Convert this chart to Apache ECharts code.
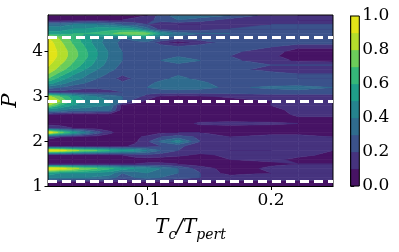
<!DOCTYPE html>
<html><head><meta charset="utf-8">
<script src="https://cdn.jsdelivr.net/npm/echarts@6/dist/echarts.min.js"></script>
<style>html,body{margin:0;padding:0;background:#fff}#c{width:399px;height:252px}</style>
</head><body><div id="c"></div>
<script>
// x: Tc/Tpert grid, P grid, value grid (rows follow ps)
const xs = [0.02,0.03,0.04,0.05,0.06,0.07,0.08,0.09,0.1,0.111,0.125,0.143,0.167,0.2,0.222,0.25];
const ps = [1.0,1.1,1.2,1.3,1.4,1.5,1.6,1.7,1.8,1.9,2.0,2.1,2.2,2.3,2.4,2.5,2.6,2.7,2.8,2.9,3.0,3.1,3.2,3.3,3.4,3.5,3.6,3.7,3.8,3.9,4.0,4.1,4.2,4.3,4.4,4.5,4.6,4.7,4.8];
const z = [
 [0.05,0.05,0.05,0.05,0.05,0.05,0.05,0.05,0.05,0.05,0.05,0.05,0.05,0.05,0.05,0.05],
 [0.08,0.08,0.08,0.08,0.08,0.08,0.08,0.08,0.08,0.08,0.08,0.08,0.08,0.08,0.08,0.08],
 [0.45,0.42,0.4,0.4,0.38,0.35,0.25,0.3,0.35,0.3,0.25,0.2,0.15,0.15,0.15,0.12],
 [0.55,0.5,0.5,0.5,0.48,0.45,0.3,0.35,0.4,0.35,0.3,0.2,0.05,0.1,0.15,0.12],
 [1.0,0.95,0.85,0.75,0.7,0.62,0.55,0.5,0.45,0.4,0.3,0.15,0.05,0.12,0.15,0.12],
 [0.1,0.1,0.1,0.1,0.1,0.1,0.1,0.1,0.12,0.12,0.1,0.05,0.05,0.08,0.1,0.1],
 [0.05,0.05,0.05,0.05,0.05,0.05,0.05,0.05,0.05,0.05,0.05,0.05,0.1,0.12,0.08,0.05],
 [0.05,0.05,0.05,0.05,0.05,0.08,0.1,0.15,0.18,0.15,0.12,0.08,0.12,0.15,0.12,0.08],
 [1.0,0.95,0.85,0.75,0.7,0.6,0.55,0.5,0.4,0.3,0.2,0.15,0.1,0.1,0.12,0.1],
 [0.05,0.05,0.05,0.05,0.05,0.05,0.08,0.12,0.15,0.2,0.22,0.15,0.12,0.15,0.15,0.1],
 [0.05,0.05,0.05,0.05,0.05,0.05,0.06,0.08,0.18,0.32,0.45,0.2,0.12,0.15,0.15,0.1],
 [0.15,0.1,0.08,0.05,0.05,0.05,0.05,0.08,0.12,0.2,0.25,0.18,0.1,0.12,0.12,0.1],
 [1.0,0.75,0.55,0.4,0.25,0.12,0.05,0.05,0.05,0.08,0.1,0.1,0.08,0.08,0.08,0.08],
 [0.2,0.15,0.1,0.08,0.05,0.05,0.05,0.05,0.05,0.05,0.05,0.05,0.05,0.05,0.05,0.05],
 [0.05,0.05,0.05,0.05,0.05,0.05,0.05,0.05,0.05,0.05,0.05,0.12,0.13,0.12,0.1,0.05],
 [0.05,0.05,0.05,0.05,0.05,0.05,0.05,0.05,0.05,0.05,0.05,0.05,0.05,0.05,0.08,0.08],
 [0.1,0.08,0.05,0.05,0.05,0.05,0.05,0.05,0.05,0.05,0.05,0.05,0.05,0.05,0.12,0.12],
 [0.45,0.4,0.35,0.35,0.32,0.32,0.05,0.05,0.05,0.05,0.05,0.05,0.05,0.08,0.12,0.15],
 [0.8,0.6,0.5,0.45,0.42,0.4,0.05,0.05,0.05,0.05,0.05,0.05,0.05,0.1,0.15,0.15],
 [0.95,0.8,0.6,0.5,0.45,0.4,0.3,0.15,0.08,0.05,0.05,0.05,0.05,0.1,0.15,0.15],
 [0.85,0.7,0.55,0.45,0.4,0.35,0.3,0.25,0.15,0.08,0.06,0.08,0.12,0.15,0.15,0.15],
 [0.15,0.15,0.15,0.15,0.15,0.18,0.2,0.22,0.25,0.25,0.25,0.25,0.25,0.25,0.25,0.25],
 [0.35,0.3,0.25,0.22,0.22,0.22,0.22,0.25,0.3,0.33,0.35,0.33,0.28,0.32,0.35,0.3],
 [0.55,0.45,0.35,0.3,0.28,0.25,0.22,0.25,0.28,0.32,0.36,0.32,0.25,0.25,0.22,0.2],
 [0.7,0.55,0.45,0.38,0.3,0.25,0.15,0.22,0.25,0.28,0.32,0.28,0.25,0.22,0.2,0.2],
 [0.8,0.65,0.52,0.42,0.35,0.28,0.22,0.22,0.25,0.27,0.29,0.27,0.25,0.22,0.2,0.2],
 [0.88,0.75,0.62,0.5,0.4,0.32,0.27,0.25,0.25,0.25,0.25,0.25,0.22,0.18,0.15,0.15],
 [0.92,0.8,0.68,0.56,0.45,0.35,0.28,0.25,0.25,0.25,0.27,0.25,0.22,0.2,0.2,0.2],
 [0.95,0.85,0.72,0.6,0.48,0.37,0.3,0.27,0.25,0.3,0.36,0.3,0.22,0.15,0.08,0.05],
 [0.98,0.87,0.75,0.63,0.5,0.38,0.3,0.28,0.27,0.28,0.29,0.28,0.2,0.12,0.05,0.05],
 [0.98,0.87,0.75,0.62,0.5,0.38,0.3,0.28,0.27,0.27,0.28,0.27,0.22,0.15,0.05,0.05],
 [0.97,0.85,0.72,0.6,0.47,0.35,0.28,0.27,0.27,0.25,0.22,0.25,0.25,0.2,0.12,0.12],
 [0.96,0.82,0.69,0.56,0.44,0.33,0.28,0.27,0.27,0.15,0.05,0.15,0.25,0.25,0.25,0.25],
 [0.9,0.78,0.65,0.55,0.45,0.35,0.3,0.35,0.45,0.3,0.25,0.25,0.25,0.25,0.25,0.25],
 [0.55,0.55,0.6,0.6,0.62,0.68,0.75,0.8,0.75,0.5,0.35,0.3,0.3,0.25,0.25,0.25],
 [0.45,0.45,0.5,0.5,0.55,0.55,0.55,0.5,0.35,0.15,0.12,0.15,0.2,0.2,0.2,0.2],
 [0.35,0.35,0.4,0.4,0.4,0.35,0.3,0.25,0.2,0.12,0.1,0.1,0.15,0.2,0.2,0.2],
 [0.05,0.05,0.05,0.08,0.08,0.08,0.1,0.12,0.15,0.25,0.3,0.25,0.15,0.12,0.1,0.1],
 [0.05,0.05,0.05,0.05,0.05,0.05,0.05,0.08,0.1,0.25,0.35,0.35,0.3,0.15,0.1,0.1]
];
const levels = [0,0.1,0.2,0.3,0.4,0.5,0.6,0.7,0.8,0.9,1.0];
const bandColors = ['#471365','#46337e','#3b528b','#2f6c8e','#25848e','#1f9e89','#35b779','#6ccd5a','#b4de2c','#e3e418'];
const dashedP = [1.12, 2.9, 4.32];
const xTicks = [0.1, 0.2];
const yTicks = [1, 2, 3, 4];

const FONT = '"DejaVu Serif", "Liberation Serif", serif';

function clip(poly, lo, keepAbove) {
  const out = [];
  const n = poly.length;
  for (let k = 0; k < n; k++) {
    const a = poly[k], b = poly[(k + 1) % n];
    const ina = keepAbove ? a.v >= lo : a.v <= lo;
    const inb = keepAbove ? b.v >= lo : b.v <= lo;
    if (ina) out.push(a);
    if (ina !== inb) {
      const t = (lo - a.v) / (b.v - a.v);
      out.push({x: a.x + t * (b.x - a.x), y: a.y + t * (b.y - a.y), v: lo});
    }
  }
  return out;
}

const cells = [];
for (let j = 0; j < ps.length - 1; j++)
  for (let i = 0; i < xs.length - 1; i++)
    cells.push([xs[i], ps[j], i, j]);

function renderCell(params, api) {
  const i = api.value(2), j = api.value(3);
  const c00 = api.coord([xs[i], ps[j]]), c10 = api.coord([xs[i+1], ps[j]]);
  const c11 = api.coord([xs[i+1], ps[j+1]]), c01 = api.coord([xs[i], ps[j+1]]);
  const quad = [
    {x: c00[0], y: c00[1], v: z[j][i]},
    {x: c10[0], y: c10[1], v: z[j][i+1]},
    {x: c11[0], y: c11[1], v: z[j+1][i+1]},
    {x: c01[0], y: c01[1], v: z[j+1][i]}
  ];
  const children = [];
  for (let k = 0; k < levels.length - 1; k++) {
    let p = clip(quad, levels[k], true);
    if (p.length < 3) continue;
    p = clip(p, levels[k+1], false);
    if (p.length < 3) continue;
    children.push({
      type: 'polygon',
      shape: {points: p.map(q => [q.x, q.y])},
      style: {fill: bandColors[k], stroke: bandColors[k], lineWidth: 0.6}
    });
  }
  return {type: 'group', children};
}

function renderBand(params, api) {
  const k = api.value(0);
  const a = api.coord([0, levels[k]]), b = api.coord([1, levels[k+1]]);
  return {type: 'rect', shape: {x: a[0], y: b[1], width: b[0] - a[0], height: a[1] - b[1]},
    style: {fill: bandColors[k], stroke: bandColors[k], lineWidth: 0.3}};
}

const chart = echarts.init(document.getElementById('c'), null, {renderer: 'canvas'});
const labelStyle = {fontFamily: FONT, fontSize: 17, color: '#000'};
chart.setOption({
  animation: false,
  grid: [
    {left: 48, right: 66, top: 15, bottom: 65.5, outerBoundsMode: 'none', containLabel: false,
     show: true, borderColor: '#000', borderWidth: 1, backgroundColor: 'transparent', z: 5},
    {left: 350.7, width: 8.6, top: 16, bottom: 66, outerBoundsMode: 'none', containLabel: false,
     show: true, borderColor: '#000', borderWidth: 1, z: 5}
  ],
  xAxis: [
    {type: 'value', gridIndex: 0, min: 0.02, max: 0.25, splitLine: {show: false},
     axisLine: {show: true, lineStyle: {color: '#000', width: 1}},
     axisTick: {show: true, length: 3.5, inside: false, customValues: xTicks, lineStyle: {color: '#000'}},
     axisLabel: Object.assign({margin: 6, customValues: xTicks, formatter: v => String(v)}, labelStyle),
     name: '{i|T}{s|c}{i|/T}{s|pert}', nameLocation: 'middle', nameGap: 34,
     nameTextStyle: {rich: {
       i: {fontFamily: FONT, fontStyle: 'italic', fontSize: 20, color: '#000', verticalAlign: 'bottom', padding: [0, 0, 5, 0], lineHeight: 22},
       s: {fontFamily: FONT, fontStyle: 'italic', fontSize: 14, color: '#000', verticalAlign: 'bottom', lineHeight: 15}
     }}},
    {type: 'value', gridIndex: 1, min: 0, max: 1, show: false}
  ],
  yAxis: [
    {type: 'value', gridIndex: 0, min: 1, max: 4.81, splitLine: {show: false},
     axisLine: {show: true, lineStyle: {color: '#000', width: 1}},
     axisTick: {show: true, length: 3.5, customValues: yTicks, lineStyle: {color: '#000'}},
     axisLabel: Object.assign({margin: 5, customValues: yTicks, formatter: v => String(v)}, labelStyle),
     name: 'P', nameLocation: 'middle', nameGap: 27,
     nameTextStyle: {fontFamily: FONT, fontStyle: 'italic', fontSize: 21, color: '#000'}},
    {type: 'value', gridIndex: 1, min: 0, max: 1, position: 'right', interval: 0.2, splitLine: {show: false},
     axisLine: {show: true, lineStyle: {color: '#000', width: 1}},
     axisTick: {show: true, length: 3.5, lineStyle: {color: '#000'}},
     axisLabel: Object.assign({margin: 3, formatter: v => v.toFixed(1)}, labelStyle)}
  ],
  series: [
    {type: 'custom', xAxisIndex: 0, yAxisIndex: 0, data: cells, renderItem: renderCell,
     encode: {x: 0, y: 1}, clip: true, silent: true, z: 1,
     markLine: {silent: true, symbol: 'none', label: {show: false},
       lineStyle: {color: '#fff', type: [9, 5], width: 3, opacity: 1},
       data: dashedP.map(p => ({yAxis: p}))}},
    {type: 'custom', xAxisIndex: 1, yAxisIndex: 1, data: levels.slice(0, -1).map((l, k) => [k]),
     renderItem: renderBand, encode: {x: 0, y: 0}, silent: true, z: 1}
  ]
});
</script></body></html>
